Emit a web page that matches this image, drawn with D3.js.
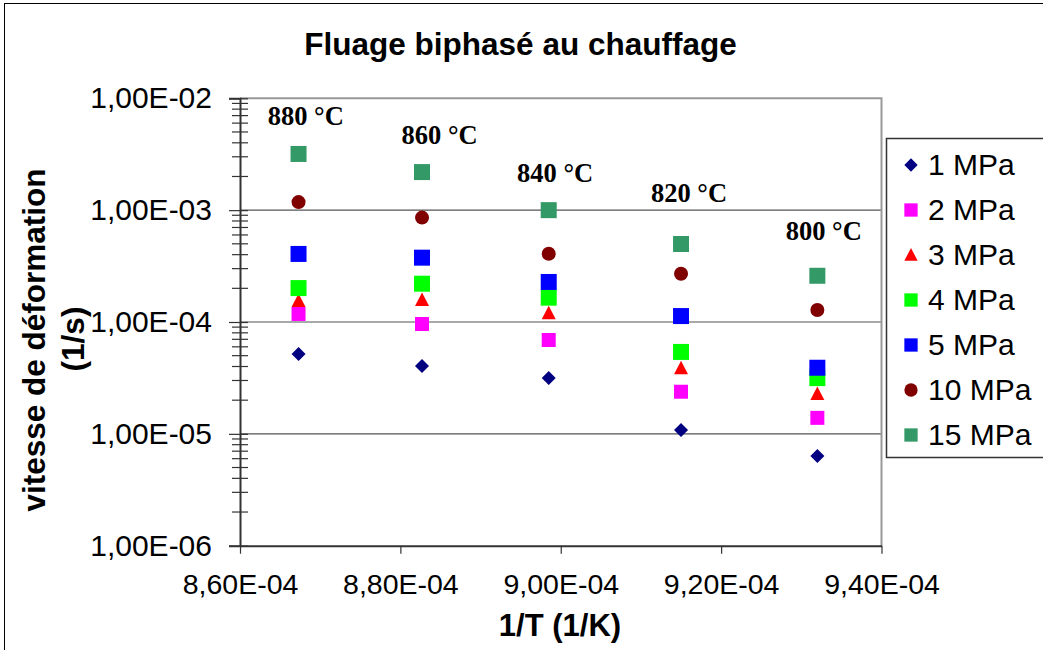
<!DOCTYPE html>
<html>
<head>
<meta charset="utf-8">
<script src="https://cdn.jsdelivr.net/npm/d3@7"></script>
<style>
  body { margin: 0; background: #fff; }
  svg { display: block; }
  .sans { font-family: "Liberation Sans", Arial, sans-serif; }
  .serif { font-family: "Liberation Serif", "Times New Roman", serif; }
</style>
</head>
<body>
<script>
// values
var xValues = [8.673e-4, 8.827e-4, 8.985e-4, 9.150e-4, 9.320e-4]; // 1/T (1/K)
var tempLabels = ["880 °C", "860 °C", "840 °C", "820 °C", "800 °C"];
var labelX = [8.682e-4, 8.849e-4, 8.993e-4, 9.160e-4, 9.328e-4];
var labelRate = [5.77e-3, 3.90e-3, 1.79e-3, 1.18e-3, 5.41e-4];

var seriesNames = ["1 MPa", "2 MPa", "3 MPa", "4 MPa", "5 MPa", "10 MPa", "15 MPa"];
var rate1 = [5.18e-5, 4.05e-5, 3.16e-5, 1.08e-5, 6.34e-6];
var rate2 = [1.18e-4, 9.6e-5, 6.9e-5, 2.38e-5, 1.39e-5];
var rate3 = [1.54e-4, 1.57e-4, 1.20e-4, 3.86e-5, 2.27e-5];
var rate4 = [2.01e-4, 2.20e-4, 1.65e-4, 5.40e-5, 3.15e-5];
var rate5 = [4.06e-4, 3.76e-4, 2.28e-4, 1.13e-4, 3.90e-5];
var rate10 = [1.18e-3, 8.58e-4, 4.08e-4, 2.70e-4, 1.28e-4];
var rate15 = [3.18e-3, 2.19e-3, 1.00e-3, 4.98e-4, 2.59e-4];

var xTicks = [8.6e-4, 8.8e-4, 9.0e-4, 9.2e-4, 9.4e-4];
var yTicks = [1e-6, 1e-5, 1e-4, 1e-3, 1e-2];

var colors = ["#000080", "#ff00ff", "#ff0000", "#00ff00", "#0000ff", "#800000", "#339966"];
var shapes = ["diamond", "square14", "triangle", "square", "square", "circle", "square"];

var series = [rate1, rate2, rate3, rate4, rate5, rate10, rate15].map(function (r, i) {
    return {
        name: seriesNames[i],
        color: colors[i],
        shape: shapes[i],
        points: r.map(function (v, j) { return {x: xValues[j], y: v}; })
    };
});

var width = 1043;
var height = 650;

var svg = d3.select("body").append("svg")
    .attr("width", width)
    .attr("height", height);

// chart frame
svg.append("rect")
    .attr("x", 4.5).attr("y", 3.5)
    .attr("width", 1100).attr("height", 700)
    .attr("fill", "#fff")
    .attr("stroke", "#000");

var x = d3.scaleLinear().domain([8.6e-4, 9.4e-4]).range([240, 881.5]);
var y = d3.scaleLog().domain([1e-6, 1e-2]).range([545.7, 98.3]);

function sci(v) {
    var parts = v.toExponential(2).split("e");
    var e = +parts[1];
    return parts[0].replace(".", ",") + "E" + (e < 0 ? "-" : "+") + String(Math.abs(e)).padStart(2, "0");
}

// marker paths centred on 0,0
function markerPath(shape) {
    if (shape == "diamond") return "M0,-7L7,0L0,7L-7,0Z";
    if (shape == "square14") return "M-7,-7H7V7H-7Z";
    if (shape == "square") return "M-8,-8H8V8H-8Z";
    if (shape == "triangle") return "M0,-7.5L7,6L-7,6Z";
    if (shape == "circle") return "M7,0A7,7 0 1,1 -7,0A7,7 0 1,1 7,0Z";
}

// gridlines
svg.append("g")
    .selectAll("line")
    .data(yTicks.slice(1, 4))
    .enter().append("line")
    .attr("x1", x.range()[0]).attr("x2", x.range()[1])
    .attr("y1", function (d) { return y(d); })
    .attr("y2", function (d) { return y(d); })
    .attr("stroke", "#555")
    .attr("stroke-width", 1.2);

// plot area border (top, right)
svg.append("path")
    .attr("d", "M" + x.range()[0] + "," + y(1e-2) + "H" + x.range()[1] + "V" + y(1e-6))
    .attr("fill", "none")
    .attr("stroke", "#999")
    .attr("stroke-width", 2);

// minor ticks on the log axis
var minor = [];
yTicks.slice(0, 4).forEach(function (t) {
    for (var k = 2; k <= 9; k++) minor.push(t * k);
});
svg.append("g")
    .selectAll("line")
    .data(minor)
    .enter().append("line")
    .attr("x1", 232).attr("x2", 248)
    .attr("y1", function (d) { return y(d); })
    .attr("y2", function (d) { return y(d); })
    .attr("stroke", "#333")
    .attr("stroke-width", 1.2);

var yAxis = svg.append("g")
    .attr("class", "sans")
    .attr("transform", "translate(" + x.range()[0] + ",0)")
    .call(d3.axisLeft(y).tickValues(yTicks).tickSize(11).tickPadding(17).tickFormat(sci));
yAxis.selectAll("line").attr("x2", -11).attr("x1", 8).attr("stroke", "#333").attr("stroke-width", 1.2);
yAxis.select(".domain").attr("stroke", "#333").attr("stroke-width", 2);
yAxis.selectAll("text").attr("font-size", 30).attr("fill", "#000");

var xAxis = svg.append("g")
    .attr("class", "sans")
    .attr("transform", "translate(0," + y.range()[0] + ")")
    .call(d3.axisBottom(x).tickValues(xTicks).tickSize(8).tickPadding(20).tickFormat(sci).tickSizeOuter(0));
xAxis.selectAll("line").attr("stroke", "#333").attr("stroke-width", 1.2);
xAxis.select(".domain").attr("stroke", "#333").attr("stroke-width", 2);
xAxis.selectAll("text").attr("font-size", 28.5).attr("fill", "#000");

// points
var groups = svg.selectAll("g.series")
    .data(series)
    .enter().append("g")
    .attr("class", "series");

groups.selectAll("path")
    .data(function (d) {
        return d.points.map(function (p) { return {p: p, s: d}; });
    })
    .enter().append("path")
    .attr("d", function (d) { return markerPath(d.s.shape); })
    .attr("transform", function (d) {
        return "translate(" + x(d.p.x) + "," + y(d.p.y) + ")";
    })
    .attr("fill", function (d) { return d.s.color; });

// temperature labels
svg.append("g")
    .attr("class", "serif")
    .selectAll("text")
    .data(tempLabels)
    .enter().append("text")
    .attr("x", function (d, i) { return x(labelX[i]); })
    .attr("y", function (d, i) { return y(labelRate[i]); })
    .attr("text-anchor", "middle")
    .attr("font-size", 26.5)
    .attr("font-weight", "bold")
    .text(function (d) { return d; });

// titles
svg.append("text")
    .attr("class", "sans")
    .attr("x", 520.5).attr("y", 55)
    .attr("text-anchor", "middle")
    .attr("font-size", 31.5)
    .attr("font-weight", "bold")
    .text("Fluage biphasé au chauffage");

svg.append("text")
    .attr("class", "sans")
    .attr("x", 560).attr("y", 636)
    .attr("text-anchor", "middle")
    .attr("font-size", 31)
    .attr("font-weight", "bold")
    .text("1/T (1/K)");

var yTitle = svg.append("g")
    .attr("class", "sans")
    .attr("font-size", 31.5)
    .attr("font-weight", "bold")
    .attr("text-anchor", "middle");
yTitle.append("text")
    .attr("transform", "translate(45,340) rotate(-90)")
    .text("vitesse de déformation");
yTitle.append("text")
    .attr("transform", "translate(84,339) rotate(-90)")
    .text("(1/s)");

// legend
var legend = svg.append("g").attr("class", "sans");
legend.append("rect")
    .attr("x", 886.5).attr("y", 138.5)
    .attr("width", 200).attr("height", 319)
    .attr("fill", "#fff")
    .attr("stroke", "#333")
    .attr("stroke-width", 1.5);

var items = legend.selectAll("g.item")
    .data(series)
    .enter().append("g")
    .attr("class", "item")
    .attr("transform", function (d, i) { return "translate(911," + (165 + i * 45) + ")"; });

items.append("path")
    .attr("d", function (d) { return markerPath(d.shape == "square" ? "square14" : d.shape); })
    .attr("transform", "scale(0.95)")
    .attr("fill", function (d) { return d.color; });

items.append("text")
    .attr("x", 17)
    .attr("y", 10)
    .attr("font-size", 30)
    .text(function (d) { return d.name; });
</script>
</body>
</html>
